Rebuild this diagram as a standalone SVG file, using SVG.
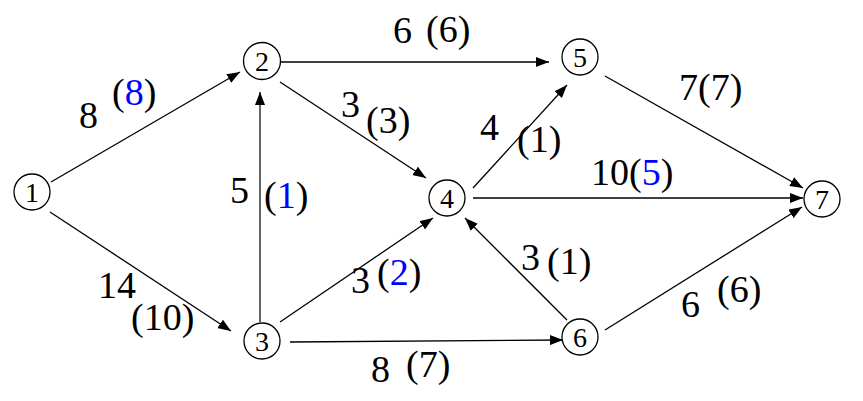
<svg xmlns="http://www.w3.org/2000/svg" width="863" height="401" viewBox="0 0 863 401">
<style>
.n circle{fill:#fff;stroke:#000;stroke-width:1.3}
.c line{stroke:#000;stroke-width:1.3;marker-end:url(#ah)}
.c line.g{stroke:#555;stroke-width:1.8}
.b{fill:#0000ff}
</style>
<defs>
<marker id="ah" markerUnits="userSpaceOnUse" markerWidth="13" markerHeight="10" refX="13" refY="5" orient="auto" viewBox="0 0 13 10">
<path d="M0,0 L13,5 L0,10 z" fill="#000"/>
</marker>
</defs>
<rect width="863" height="401" fill="#fff"/>
<g id="connectors" class="c">
<line x1="51" y1="182" x2="240" y2="72"/>
<line x1="50" y1="212" x2="231" y2="331"/>
<line x1="281" y1="62" x2="549" y2="62"/>
<line x1="280" y1="82" x2="426" y2="178"/>
<line class="g" x1="260" y1="322" x2="260" y2="92"/>
<line x1="280" y1="322" x2="433" y2="218"/>
<line x1="290" y1="342" x2="563" y2="340"/>
<line x1="567" y1="320" x2="465" y2="218"/>
<line x1="473" y1="188" x2="567" y2="85"/>
<line x1="473" y1="198" x2="803" y2="198"/>
<line x1="605" y1="76" x2="803" y2="188"/>
<line x1="605" y1="330" x2="802" y2="207"/>
</g>
<g font-family="Liberation Serif" font-size="28" text-anchor="middle" fill="#000">
<g id="n1" class="n"><circle cx="32" cy="192" r="18"/><text x="32" y="202">1</text></g>
<g id="n2" class="n"><circle cx="262" cy="61" r="18.5"/><text x="262" y="71">2</text></g>
<g id="n3" class="n"><circle cx="262" cy="341" r="18"/><text x="262" y="351">3</text></g>
<g id="n4" class="n"><circle cx="447" cy="198" r="18"/><text x="447" y="208">4</text></g>
<g id="n5" class="n"><circle cx="580" cy="57" r="18"/><text x="580" y="67">5</text></g>
<g id="n6" class="n"><circle cx="580" cy="337" r="18"/><text x="580" y="347">6</text></g>
<g id="n7" class="n"><circle cx="822" cy="199" r="18"/><text x="822" y="209">7</text></g>
</g>
<g id="labels" font-family="Liberation Serif" font-size="38" fill="#000">
<text x="79" y="128">8</text>
<text x="112" y="105">(<tspan class="b">8</tspan>)</text>
<text x="393" y="43">6</text>
<text x="426" y="42">(6)</text>
<text x="341" y="117">3</text>
<text x="366" y="133">(3)</text>
<text x="679" y="100">7(7)</text>
<text x="480" y="140">4</text>
<text x="517" y="152">(1)</text>
<text x="591" y="185">10(<tspan class="b">5</tspan>)</text>
<text x="230" y="203">5</text>
<text x="264" y="208">(<tspan class="b">1</tspan>)</text>
<text x="351" y="293">3</text>
<text x="377" y="285">(<tspan class="b">2</tspan>)</text>
<text x="371" y="382">8</text>
<text x="406" y="377">(7)</text>
<text x="521" y="270">3</text>
<text x="547" y="274">(1)</text>
<text x="681" y="317">6</text>
<text x="717" y="302">(6)</text>
<text x="98" y="298">14</text>
<text x="131" y="330">(10)</text>
</g>
</svg>
